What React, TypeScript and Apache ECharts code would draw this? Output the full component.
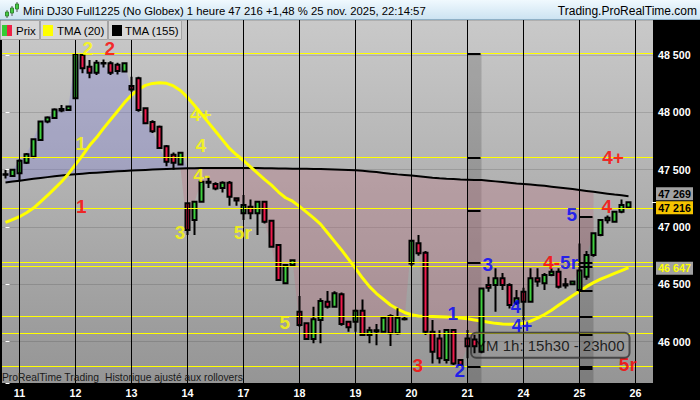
import React, { useEffect, useRef } from 'react';
import * as echarts from 'echarts';

// ---- time structure (hourly candles, No Globex session) ----
const dayLabels = ['10', '11', '12', '13', '14', '17', '18', '19', '20', '21', '24', '25', '26'];
const barsPerDay = [2, 8, 8, 8, 8, 8, 8, 8, 8, 8, 8, 8, 3];

// ---- price data ----
const open = [
  47460, 47445, 47468, 47561, 47613, 47759, 47919, 47950, 48030, 48020,
  48122, 48500, 48398, 48345, 48425, 48427, 48415, 48355, 48230, 48297,
  48035, 47915, 47875, 47705, 47630, 47545, 47207, 47061, 47221, 47395,
  47375, 47340, 47386, 47250, 47119, 47177, 47119, 47221, 47055, 46843,
  46509, 46669, 46261, 46160, 46023, 46189, 46349, 46305, 46413, 46174,
  46174, 46270, 46058, 46100, 46087, 46224, 46073, 46200, 46683, 46858,
  46776, 46087, 46029, 45840, 46102, 45840, 46029, 46020, 45913, 46494,
  46494, 46553, 46494, 46340, 46436, 46349, 46553, 46509, 46582, 46610,
  46500, 46500, 46450, 46567, 46756, 46930, 47060, 47046, 47133, 47170,
];
const high = [
  47497, 47505, 47590, 47645, 47770, 47925, 47965, 48035, 48063, 48055,
  48515, 48515, 48456, 48456, 48460, 48445, 48432, 48432, 48311, 48311,
  48045, 47930, 47885, 47715, 47650, 47652, 47215, 47230, 47400, 47440,
  47390, 47400, 47401, 47260, 47279, 47241, 47230, 47230, 47060, 46850,
  46675, 46720, 46398, 46170, 46305, 46378, 46442, 46440, 46430, 46180,
  46280, 46369, 46130, 46155, 46215, 46240, 46291, 46215, 46890, 46930,
  46790, 46189, 46100, 46110, 46110, 45850, 46102, 46060, 46470, 46567,
  46640, 46600, 46510, 46450, 46470, 46640, 46640, 46600, 46640, 46640,
  46555, 46530, 46857, 46790, 46950, 47070, 47100, 47140, 47241, 47225,
];
const low = [
  47424, 47440, 47400, 47550, 47600, 47750, 47905, 47945, 48000, 48015,
  48115, 48340, 48297, 48325, 48390, 48325, 48330, 48350, 48180, 48005,
  47895, 47820, 47680, 47530, 47500, 47540, 46930, 46930, 47215, 47340,
  47320, 47300, 47186, 47186, 47061, 47067, 46930, 47030, 46820, 46530,
  46500, 46660, 46131, 46015, 45986, 45986, 46290, 46300, 46140, 46087,
  46087, 46050, 45986, 45970, 46080, 45963, 46060, 46185, 46660, 46750,
  46058, 45811, 45811, 45811, 45796, 45782, 45855, 45900, 45900, 46436,
  46261, 46450, 46290, 46320, 46189, 46340, 46480, 46450, 46570, 46465,
  46465, 46495, 46436, 46540, 46740, 46920, 47030, 47040, 47120, 47160,
];
const close = [
  47455, 47500, 47578, 47635, 47765, 47919, 47955, 48025, 48015, 48050,
  48509, 48384, 48345, 48433, 48430, 48345, 48360, 48427, 48200, 48020,
  47904, 47835, 47690, 47570, 47560, 47648, 46974, 47221, 47395, 47385,
  47335, 47386, 47264, 47232, 47192, 47119, 47221, 47046, 46828, 46538,
  46669, 46710, 46145, 46023, 46195, 46355, 46305, 46422, 46154, 46125,
  46270, 46058, 46100, 46090, 46209, 46073, 46209, 46195, 46881, 46771,
  46087, 45913, 45855, 46102, 45811, 45800, 45960, 45960, 46465, 46470,
  46553, 46494, 46320, 46378, 46349, 46553, 46524, 46582, 46610, 46480,
  46490, 46525, 46620, 46756, 46945, 47061, 47080, 47133, 47192, 47216,
];

// ---- indicators ----
const tma20 = [
  47040, 47065, 47090, 47125, 47165, 47220, 47275, 47335, 47395, 47465,
  47545, 47625, 47710, 47780, 47860, 47935, 48010, 48085, 48150, 48200,
  48235, 48252, 48258, 48253, 48230, 48190, 48130, 48060, 47985, 47910,
  47835, 47760, 47685, 47630, 47580, 47525, 47470, 47415, 47365, 47305,
  47255, 47225, 47180, 47130, 47080, 47025, 46950, 46875, 46800, 46720,
  46640, 46555, 46480, 46420, 46370, 46320, 46285, 46255, 46235, 46225,
  46222, 46220, 46218, 46216, 46212, 46207, 46200, 46190, 46180, 46170,
  46160, 46155, 46153, 46154, 46160, 46180, 46205, 46237, 46275, 46318,
  46360, 46400, 46440, 46480, 46515, 46545, 46570, 46595, 46620, 46647,
];
const tma155 = [
  47388, 47396, 47404, 47412, 47420, 47428, 47435, 47442, 47449, 47455,
  47460, 47465, 47470, 47474, 47478, 47482, 47486, 47489, 47492, 47495,
  47498, 47501, 47504, 47506, 47508, 47510, 47512, 47513, 47514, 47515,
  47515, 47515, 47515, 47515, 47515, 47515, 47514, 47513, 47512, 47511,
  47510, 47509, 47508, 47507, 47506, 47505, 47503, 47501, 47499, 47497,
  47494, 47490, 47485, 47479, 47472, 47465, 47459, 47454, 47449, 47443,
  47437, 47430, 47425, 47421, 47418, 47415, 47413, 47411, 47409, 47404,
  47398, 47392, 47386, 47380, 47375, 47370, 47365, 47359, 47352, 47345,
  47338, 47331, 47323, 47315, 47307, 47299, 47291, 47283, 47276, 47269,
];
const fillEnd = 84; // last bar of the price / TMA(155) shading

// ---- horizontal levels ----
const levels = [48515, 47604, 47160, 46692, 46657, 46218, 46070, 45782];
const band1Levels = [48515, 47604, 47142, 46692, 45782];
const band2Levels = [47090, 46692, 46657, 46442, 46218, 46064, 45782, 45762];
const bandBars = [[66, 68], [82, 84]];
const bandTops = [48515, 47090];

// ---- wave-count annotations ----
const annoText = ['2', '2', '1', '1', '4+', '4', '4-', '3', '5r', '5', '4+', '4', '5', '3', '4-5r', '1', '4', '4+', '3', '2', '5r'];
const annoBar = [11.76, 14.9, 10.76, 10.83, 27.9, 27.9, 28.04, 24.93, 33.9, 39.9, 86.8, 85.9, 80.9, 68.9, 79.3, 63.9, 72.9, 73.8, 58.9, 64.9, 88.9];
const annoValue = [48557, 48557, 47724, 47183, 47985, 47715, 47453, 46948, 46948, 46171, 47602, 47183, 47113, 46677, 46695, 46250, 46300, 46137, 45796, 45753, 45805];
const annoKind = ['y', 'r', 'y', 'r', 'y', 'y', 'y', 'y', 'y', 'y', 'r', 'r', 'b', 'b', 'rb', 'b', 'b', 'b', 'r', 'b', 'r'];
const annoSmall = [16, 17]; // the stacked "4" / "4+" pair near the session box
const sessionText = 'YM 1h: 15h30 - 23h00';
const sessionPos = [77.83, 45970];

const yMin = 45640;
const yMax = 48805;
const FONT = '"Liberation Sans", Arial, sans-serif';

export default function App() {
  const ref = useRef<HTMLDivElement>(null);

  useEffect(() => {
    document.body.style.margin = '0';
    const chart = echarts.init(ref.current!, null, { renderer: 'svg' });

    const categories: string[] = [];
    const dayStarts: number[] = [];
    barsPerDay.forEach((n, d) => {
      if (d > 0) dayStarts.push(categories.length);
      for (let k = 0; k < n; k++) categories.push(dayLabels[d] + '|' + k);
    });
    const startSet = new Set(dayStarts);
    const totalCats = categories.length;

    const N = close.length;
    const candles = close.map((c, i) => [open[i], c, low[i], high[i]]);
    const blueBase = tma155.map((t, i) => (i <= fillEnd ? t : '-'));
    const blueDiff = tma155.map((t, i) => (i <= fillEnd ? Math.max(close[i] - t, 0) : '-'));
    const pinkBase = tma155.map((t, i) => (i <= fillEnd ? Math.min(close[i], t) : '-'));
    const pinkDiff = tma155.map((t, i) => (i <= fillEnd ? Math.max(t - close[i], 0) : '-'));

    const colorOf: Record<string, string> = { y: '#ffff00', r: '#ff0000', b: '#0000ff' };
    const lblBase = { fontSize: 19, fontWeight: 'bold' as const, fontFamily: FONT, lineHeight: 14 };
    const annoData: any[] = annoText.map((t, i) => {
      const kind = annoKind[i];
      if (kind === 'rb') {
        const parts = t.split('-');
        return {
          value: [annoBar[i], annoValue[i]],
          label: {
            show: true,
            position: 'inside',
            formatter: '{r|' + parts[0] + '-}{b|' + parts[1] + '}',
            rich: {
              r: { ...lblBase, color: colorOf.r },
              b: { ...lblBase, color: colorOf.b },
            },
          },
        };
      }
      const fs = annoSmall.indexOf(i) >= 0 ? 18 : 19;
      return {
        value: [annoBar[i], annoValue[i]],
        label: { show: true, position: 'inside', formatter: t, color: colorOf[kind], ...lblBase, fontSize: fs },
      };
    });
    annoData.push({
      value: sessionPos,
      label: {
        show: true,
        position: 'inside',
        formatter: sessionText,
        color: '#000',
        fontSize: 15,
        fontFamily: FONT,
        lineHeight: 17,
        borderColor: '#333',
        borderWidth: 1,
        borderRadius: 5,
        padding: [4, 5, 4, 5],
        backgroundColor: 'rgba(0,0,0,0)',
      },
    });

    const dashData: any[] = [];
    [band1Levels, band2Levels].forEach((lv, b) => {
      lv.forEach((v) => {
        dashData.push([{ coord: [bandBars[b][0], v] }, { coord: [bandBars[b][1] - 0.14, v] }]);
      });
    });

    const thousands = (v: number) => {
      const s = String(Math.round(v));
      return s.slice(0, s.length - 3) + ' ' + s.slice(s.length - 3);
    };

    const option: any = {
      animation: false,
      backgroundColor: '#000',
      grid: {
        left: 2,
        right: 47,
        top: 20,
        bottom: 17,
        show: true,
        borderWidth: 0,
        outerBoundsMode: 'none',
        backgroundColor: new echarts.graphic.LinearGradient(0, 0, 0, 1, [
          { offset: 0, color: '#c9c9c9' },
          { offset: 1, color: '#959595' },
        ]),
      },
      xAxis: [
        {
          type: 'category',
          data: categories,
          boundaryGap: true,
          axisLine: { show: false },
          axisTick: { show: false },
          splitLine: { show: false },
          axisLabel: {
            interval: (idx: number) => startSet.has(idx),
            formatter: (v: string) => v.split('|')[0],
            color: '#fff',
            fontWeight: 'bold',
            fontSize: 10.7,
            fontFamily: FONT,
            margin: 4,
          },
        },
        { type: 'value', min: -0.5, max: totalCats - 0.5, show: false },
      ],
      yAxis: {
        type: 'value',
        position: 'right',
        min: yMin,
        max: yMax,
        splitNumber: 6,
        axisLine: { show: false },
        axisTick: { show: true, length: 4, lineStyle: { color: '#fff' } },
        axisLabel: {
          color: '#fff',
          fontWeight: 'bold',
          fontSize: 10.7,
          fontFamily: FONT,
          margin: 5,
          formatter: (v: number) => (v % 500 === 0 ? thousands(v) : ''),
        },
        splitLine: { show: true, lineStyle: { color: 'rgba(0,0,0,0.13)', width: 1 } },
      },
      series: [
        {
          type: 'line', stack: 'above', data: blueBase, symbol: 'none', z: 1, silent: true,
          lineStyle: { width: 0, opacity: 0 },
        },
        {
          type: 'line', stack: 'above', data: blueDiff, symbol: 'none', z: 1, silent: true,
          lineStyle: { width: 0, opacity: 0 },
          areaStyle: { color: 'rgba(125,125,215,0.32)', opacity: 1 },
        },
        {
          type: 'line', stack: 'below', data: pinkBase, symbol: 'none', z: 1, silent: true,
          lineStyle: { width: 0, opacity: 0 },
        },
        {
          type: 'line', stack: 'below', data: pinkDiff, symbol: 'none', z: 1, silent: true,
          lineStyle: { width: 0, opacity: 0 },
          areaStyle: { color: 'rgba(190,120,135,0.35)', opacity: 1 },
        },
        {
          // session bands, levels, level dashes
          type: 'line', xAxisIndex: 1, yAxisIndex: 0, data: [], symbol: 'none', z: 2, silent: true,
          markArea: {
            silent: true,
            itemStyle: { color: 'rgba(0,0,0,0.16)' },
            data: bandBars.map((b, k) => [
              { coord: [b[0], bandTops[k]] },
              { coord: [b[1], yMin] },
            ]),
          },
          markLine: {
            silent: true,
            symbol: ['none', 'none'],
            label: { show: false },
            lineStyle: { color: '#ffff00', width: 1, type: 'solid' },
            data: [
              ...levels.map((v) => ({ yAxis: v })),
              ...dashData.map((d) => [
                { ...d[0], lineStyle: { color: '#000', width: 2, type: 'solid' } },
                d[1],
              ]),
            ],
          },
        },
        {
          name: 'TMA (155)', type: 'line', data: tma155, symbol: 'none', z: 3, silent: true,
          lineStyle: { color: '#000', width: 2 },
        },
        {
          name: 'TMA (20)', type: 'line', data: tma20, symbol: 'none', z: 3, silent: true,
          lineStyle: { color: '#ffff00', width: 3 },
        },
        {
          name: 'Prix', type: 'candlestick', data: candles, z: 4, silent: true,
          barWidth: 5,
          itemStyle: {
            color: '#3fcf3f',
            color0: '#ee1b4d',
            borderColor: '#000',
            borderColor0: '#000',
            borderWidth: 2,
          },
        },
        {
          // day separators
          type: 'line', xAxisIndex: 1, yAxisIndex: 0, data: [], symbol: 'none', z: 5, silent: true,
          markLine: {
            silent: true,
            symbol: ['none', 'none'],
            label: { show: false },
            lineStyle: { color: '#000', width: 1, type: 'solid' },
            data: dayStarts.map((i) => ({ xAxis: i })),
          },
        },
        {
          type: 'scatter', xAxisIndex: 1, yAxisIndex: 0, symbol: 'circle', symbolSize: 0, z: 6,
          silent: true, itemStyle: { color: 'rgba(0,0,0,0)' }, data: annoData,
        },
      ],
    };
    chart.setOption(option);

    const py = (v: number) => chart.convertToPixel({ yAxisIndex: 0 }, v) as number;
    const txt = (text: string, x: number, y: number, font: string, fill: string, align = 'left') => ({
      type: 'text', x, y, z: 100,
      style: { text, font, fill, align, textAlign: align, verticalAlign: 'middle', textVerticalAlign: 'middle' },
    });
    const rect = (x: number, y: number, w: number, h: number, fill: any, stroke?: string) => ({
      type: 'rect', z: 100, shape: { x, y, width: w, height: h },
      style: { fill, stroke: stroke || null, lineWidth: stroke ? 1 : 0 },
    });

    const tag = (v: number, dy: number, bg: string, fg: string) => {
      const cy = py(v) + dy;
      return [
        rect(656, cy - 6.5, 37, 13, bg),
        txt(thousands(v), 674.5, cy, 'bold 10.7px ' + FONT, fg, 'center'),
      ];
    };

    const elements: any[] = [
      rect(0, 0, 700, 20, new echarts.graphic.LinearGradient(0, 0, 0, 1, [
        { offset: 0, color: '#f0f9fe' },
        { offset: 1, color: '#cbe2f1' },
      ])),
      { type: 'line', z: 100, shape: { x1: 0, y1: 19.5, x2: 700, y2: 19.5 }, style: { stroke: '#8fb0c6', lineWidth: 1 } },
      // icon
      { type: 'line', z: 100, shape: { x1: 7, y1: 10, x2: 7, y2: 18 }, style: { stroke: '#555', lineWidth: 1 } },
      rect(5.5, 12, 3, 4, '#44cc44', '#338833'),
      { type: 'line', z: 100, shape: { x1: 12, y1: 6, x2: 12, y2: 16 }, style: { stroke: '#555', lineWidth: 1 } },
      rect(10.5, 8, 3, 5, '#44cc44', '#338833'),
      { type: 'line', z: 100, shape: { x1: 17, y1: 2, x2: 17, y2: 12 }, style: { stroke: '#555', lineWidth: 1 } },
      rect(15.5, 4, 3, 5, '#44cc44', '#338833'),
      txt('Mini DJ30 Full1225 (No Globex) 1 heure 47 216 +1,48 % 25 nov. 2025, 22:14:57', 23, 11, '11.3px ' + FONT, '#000'),
      txt('Trading.ProRealTime.com', 697, 11, '12px ' + FONT, '#000', 'right'),
      // legend tabs
      rect(0.5, 20.5, 39, 19, '#d8d8d8', '#a4a4a4'),
      rect(40.5, 20.5, 67, 19, '#d8d8d8', '#a4a4a4'),
      rect(108.5, 20.5, 73, 19, '#d8d8d8', '#a4a4a4'),
      rect(2, 25, 5, 11, '#33cc33'),
      rect(7, 25, 5, 11, '#ee2244'),
      rect(43, 25, 10, 11, '#ffff00'),
      rect(112, 25, 10, 11, '#000000'),
      txt('Prix', 16, 30.5, '11.5px ' + FONT, '#000'),
      txt('TMA (20)', 57, 30.5, '11.5px ' + FONT, '#000'),
      txt('TMA (155)', 125, 30.5, '11.5px ' + FONT, '#000'),
      // footer
      txt('ProRealTime Trading', 2, 377, '10.3px ' + FONT, '#1a1a1a'),
      txt('Historique ajusté aux rollovers', 105, 377, '10.3px ' + FONT, '#1a1a1a'),
      // value tags
      ...tag(tma155[N - 1], -2.4, '#a2a2a2', '#000'),
      ...tag(close[N - 1], 5.6, '#f6c400', '#000'),
      ...tag(tma20[N - 1], 0.8, '#a2a2a2', '#ffff00'),
      { type: 'line', z: 100, shape: { x1: 652, y1: Math.round(py(close[N - 1])) + 0.5, x2: 656, y2: Math.round(py(close[N - 1])) + 0.5 }, style: { stroke: '#fff', lineWidth: 1 } },
    ];
    chart.setOption({ graphic: { elements } });

    return () => chart.dispose();
  }, []);

  return <div ref={ref} style={{ position: 'fixed', left: 0, top: 0, width: 700, height: 400 }} />;
}
